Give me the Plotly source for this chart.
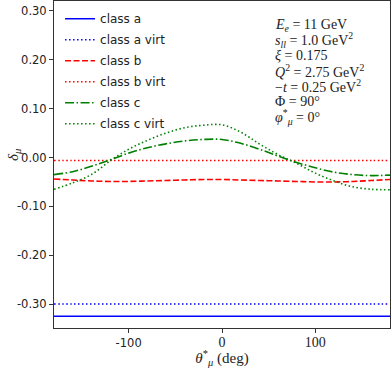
import plotly.graph_objects as go

# scattering angle of the muon, degrees
theta = [-180, -160, -140, -120, -100, -80, -60, -40, -20, 0,
         20, 40, 60, 80, 100, 120, 140, 160, 180]

class_a = [-0.325] * len(theta)
class_a_virt = [-0.300] * len(theta)
class_b = [-0.044, -0.046, -0.048, -0.049, -0.049, -0.048, -0.047, -0.046, -0.045, -0.045,
           -0.046, -0.047, -0.048, -0.049, -0.050, -0.050, -0.049, -0.047, -0.045]
class_b_virt = [-0.006] * len(theta)
class_c = [-0.035, -0.029, -0.018, -0.005, 0.009, 0.020, 0.028, 0.034, 0.037, 0.037,
           0.029, 0.017, 0.003, -0.010, -0.021, -0.030, -0.035, -0.037, -0.036]
class_c_virt = [-0.065, -0.052, -0.035, -0.007, 0.017, 0.035, 0.050, 0.061, 0.066, 0.067,
                0.052, 0.028, 0.006, -0.012, -0.032, -0.048, -0.060, -0.065, -0.066]

y_ticks = [0.30, 0.20, 0.10, 0.00, -0.10, -0.20, -0.30]
y_tick_text = ["0.30", "0.20", "0.10", "0.00", "-0.10", "-0.20", "-0.30"]
x_ticks = [-100, 0, 100]
x_tick_text = ["-100",
               '<span style="font-family:Liberation Serif;font-size:14px">0</span>',
               '<span style="font-family:Liberation Serif;font-size:14px">100</span>']

param_lines = [
    "<i>E<sub>e</sub></i> = 11 GeV",
    "<i>s<sub>ll</sub></i> = 1.0 GeV<sup>2</sup>",
    "<i>ξ</i> = 0.175",
    "<i>Q</i><sup>2</sup> = 2.75 GeV<sup>2</sup>",
    "−<i>t</i> = 0.25 GeV<sup>2</sup>",
    "Φ = 90°",
    "<i>φ</i><sup>*</sup><sub><i>μ</i></sub> = 0°",
]

series = [
    ("class a", class_a, "#0000ff", "solid"),
    ("class a virt", class_a_virt, "#0000ff", "1.5px,2.5px"),
    ("class b", class_b, "#ff0000", "6px,2.5px"),
    ("class b virt", class_b_virt, "#ff0000", "1.5px,2.5px"),
    ("class c", class_c, "#008000", "9px,2.5px,1.5px,2.5px"),
    ("class c virt", class_c_virt, "#008000", "1.5px,2.5px"),
]

fig = go.Figure()
for name, vals, color, dash in series:
    fig.add_trace(go.Scatter(x=theta, y=vals, name=name, mode="lines", legendgroup=name,
                             line=dict(color=color, dash=dash, width=1.6, shape="spline")))

# plot area in pixels: x 54..390, y 1..328
for i, line in enumerate(param_lines):
    ypix = 25 + 15.3 * i
    fig.add_annotation(x=(274 - 54) / 336, y=1 - (ypix - 1) / 327,
                       xref="paper", yref="paper", text=line,
                       showarrow=False, align="left", xanchor="left", yanchor="middle",
                       borderpad=0,
                       font=dict(family="Liberation Serif", size=14, color="#222"))

# y axis label, placed by hand
fig.add_annotation(x=(14 - 54) / 336, y=1 - (155 - 1) / 327, xref="paper", yref="paper",
                   text="<i>δ<sub>μ</sub></i>", textangle=-90, showarrow=False,
                   xanchor="center", yanchor="middle",
                   font=dict(family="Liberation Serif", size=15, color="#222"))

axis_common = dict(showline=True, linecolor="#333", linewidth=1, mirror=True,
                   ticks="outside", ticklen=4, tickcolor="#333", showgrid=False,
                   zeroline=False, automargin=False)

fig.update_layout(
    width=391, height=368,
    margin=dict(l=54, r=1, t=1, b=40),
    plot_bgcolor="white", paper_bgcolor="white",
    font=dict(family="DejaVu Sans", size=11.5, color="#222"),
    legend=dict(x=0.018, y=0.99, xanchor="left", yanchor="top", tracegroupgap=2,
                bgcolor="rgba(0,0,0,0)", font=dict(size=12)),
    xaxis=dict(range=[-180, 180], tickvals=x_ticks, ticktext=x_tick_text,
               title=dict(text="<i>θ</i><sup>*</sup><sub><i>μ</i></sub> (deg)",
                          font=dict(family="Liberation Serif", size=15), standoff=4),
               **axis_common),
    yaxis=dict(range=[-0.349, 0.3204], tickvals=y_ticks, ticktext=y_tick_text,
               **axis_common),
)

fig.write_html("out.html", config={"displayModeBar": False},
               post_script="document.body.style.margin='0';")
